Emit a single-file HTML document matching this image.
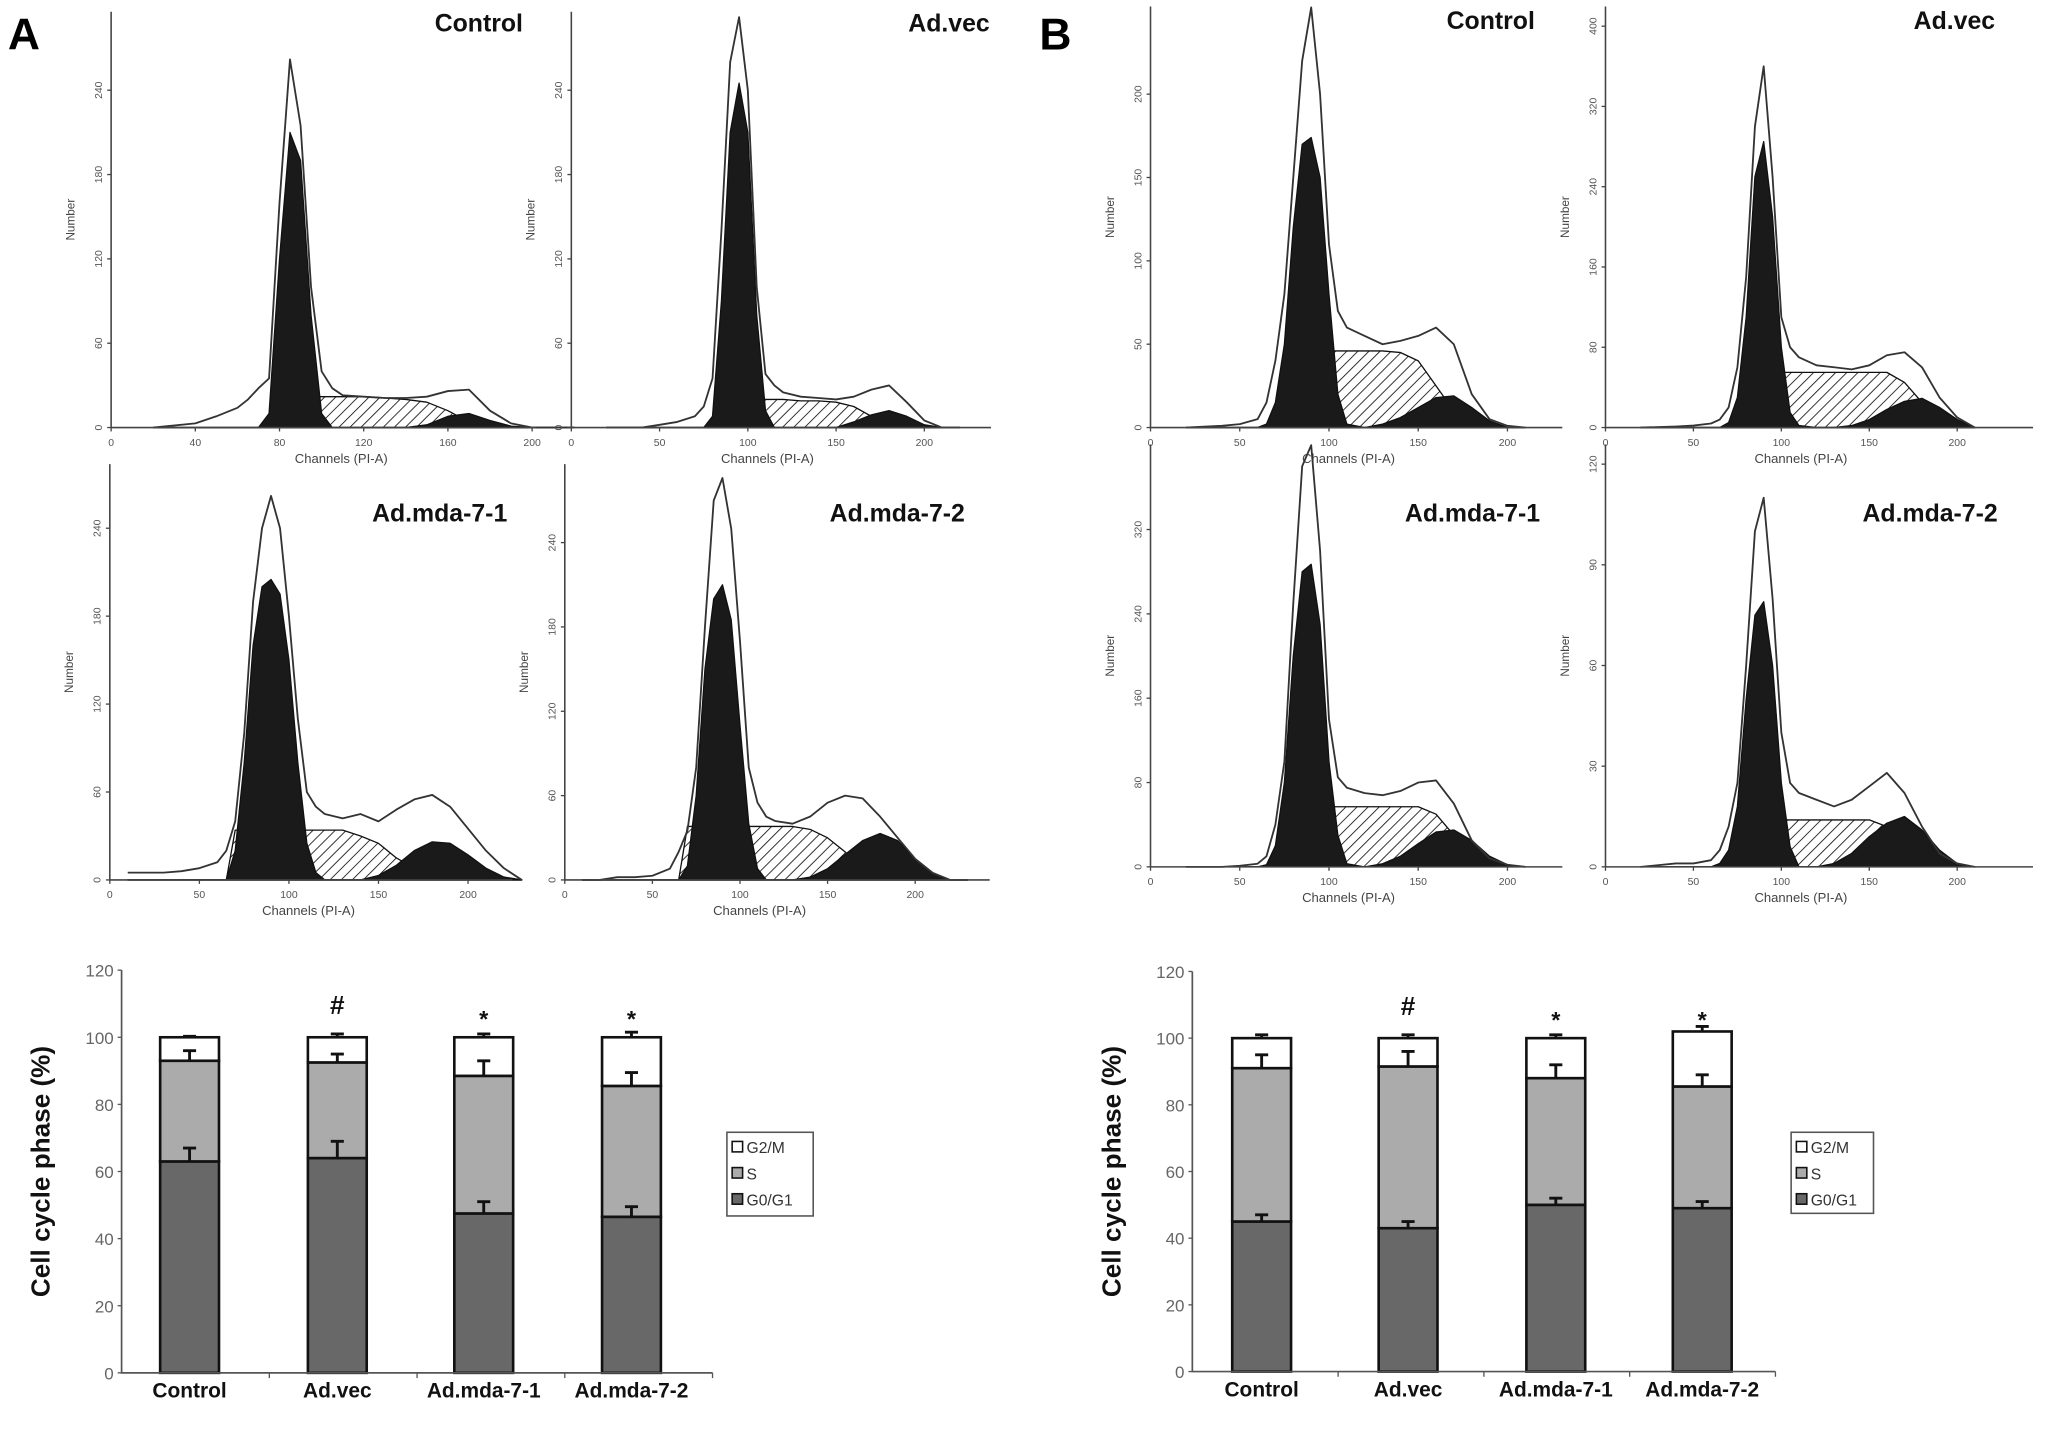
<!DOCTYPE html>
<html><head><meta charset="utf-8"><style>
html,body{margin:0;padding:0;background:#fff;}
svg{display:block;}
text{font-family:"Liberation Sans",sans-serif;}
</style></head><body>
<svg id="fig" width="2050" height="1433" viewBox="0 0 1568 1096" preserveAspectRatio="none" xmlns="http://www.w3.org/2000/svg">
<defs>
<pattern id="hatch" patternUnits="userSpaceOnUse" width="6" height="6" patternTransform="rotate(45)">
<rect width="6" height="6" fill="#fff"/><line x1="0" y1="0" x2="0" y2="6" stroke="#111" stroke-width="1.3"/>
</pattern>
</defs>
<rect width="1568" height="1096" fill="#fff"/>
<text x="6" y="38" font-size="34" font-weight="bold">A</text>
<text x="795" y="38" font-size="34" font-weight="bold">B</text>
<g id="hists"></g>
<g id="bars"></g>
</svg>
<script>
// ---------- Histogram data ----------
const chA = [20,40,50,60,65,70,75,80,85,90,95,100,105,110,120,130,140,150,160,170,180,190,200,210,220];
const aCtrlTotal = [0,3,8,14,20,28,35,160,262,215,100,40,28,23,22,21,21,22,26,27,12,3,0,0,0];
const aCtrlG1    = [0,0,0,0,0,0,10,120,210,190,80,10,0,0,0,0,0,0,0,0,0,0,0,0,0];
const aCtrlS     = [0,0,0,0,0,0,0,0,20,22,22,22,22,22,22,21,20,18,12,4,0,0,0,0,0];
const aCtrlG2    = [0,0,0,0,0,0,0,0,0,0,0,0,0,0,0,0,0,2,8,10,5,1,0,0,0];

const chA2 = [20,40,50,60,70,75,80,85,90,95,100,105,110,115,120,130,140,150,160,170,180,190,200,210,220];
const aVecTotal = [0,0,2,4,8,15,35,140,260,292,240,100,38,30,25,22,21,20,22,27,30,18,5,0,0];
const aVecG1    = [0,0,0,0,0,0,8,90,210,245,210,80,12,0,0,0,0,0,0,0,0,0,0,0,0];
const aVecS     = [0,0,0,0,0,0,0,0,0,15,20,20,20,20,20,19,19,18,15,8,2,0,0,0,0];
const aVecG2    = [0,0,0,0,0,0,0,0,0,0,0,0,0,0,0,0,0,0,4,9,12,8,2,0,0];

const chA3 = [10,20,30,40,50,60,65,70,75,80,85,90,95,100,105,110,115,120,130,140,150,160,170,180,190,200,210,220,230];
const aM1Total = [5,5,5,6,8,12,20,40,100,190,240,262,240,180,110,60,50,45,42,45,40,48,55,58,50,35,20,8,0];
const aM1G1    = [0,0,0,0,0,0,0,20,80,160,200,205,195,150,80,25,5,0,0,0,0,0,0,0,0,0,0,0,0];
const aM1S     = [0,0,0,0,0,0,0,34,34,34,34,34,34,34,34,34,34,34,34,30,25,15,8,3,0,0,0,0,0];
const aM1G2    = [0,0,0,0,0,0,0,0,0,0,0,0,0,0,0,0,0,0,0,0,3,10,20,26,25,17,8,2,0];

const aM2Total = [0,0,2,2,3,8,20,35,80,180,270,286,250,170,80,55,45,42,40,45,55,60,58,45,30,15,5,0,0];
const aM2G1    = [0,0,0,0,0,0,0,10,60,150,200,210,185,110,40,8,0,0,0,0,0,0,0,0,0,0,0,0,0];
const aM2S     = [0,0,0,0,0,0,0,38,38,38,38,38,38,38,38,38,38,38,38,36,30,20,8,2,0,0,0,0,0];
const aM2G2    = [0,0,0,0,0,0,0,0,0,0,0,0,0,0,0,0,0,0,0,2,8,18,28,33,28,15,5,0,0];

const chB = [20,40,50,60,65,70,75,80,85,90,95,100,105,110,120,130,140,150,160,170,180,190,200,210];
const bCtrlTotal = [0,1,2,5,15,40,80,150,220,252,200,110,70,60,55,50,52,55,60,50,20,5,1,0];
const bCtrlG1    = [0,0,0,0,2,15,50,120,170,174,150,80,20,2,0,0,0,0,0,0,0,0,0,0];
const bCtrlS     = [0,0,0,0,0,5,15,25,35,40,44,46,46,46,46,46,45,40,25,10,2,0,0,0];
const bCtrlG2    = [0,0,0,0,0,0,0,0,0,0,0,0,0,0,0,2,6,12,18,19,12,4,0,0];

const bVecTotal = [0,1,2,4,8,20,60,150,300,360,250,110,80,70,62,60,58,62,72,75,60,30,10,0];
const bVecG1    = [0,0,0,0,0,5,30,110,250,285,210,80,15,2,0,0,0,0,0,0,0,0,0,0];
const bVecS     = [0,0,0,0,0,0,10,20,35,45,50,55,55,55,55,55,55,55,55,45,25,8,0,0];
const bVecG2    = [0,0,0,0,0,0,0,0,0,0,0,0,0,0,0,0,2,8,18,26,29,20,8,0];

const bM1Total = [0,0,1,3,10,40,100,250,380,400,300,140,85,75,70,68,72,80,82,60,25,8,2,0];
const bM1G1    = [0,0,0,0,2,20,80,200,280,287,230,100,30,3,0,0,0,0,0,0,0,0,0,0];
const bM1S     = [0,0,0,0,0,0,15,30,40,48,53,57,57,57,57,57,57,57,50,30,10,0,0,0];
const bM1G2    = [0,0,0,0,0,0,0,0,0,0,0,0,0,0,0,3,10,22,33,35,25,10,2,0];

const bM2Total = [0,1,1,2,5,12,25,60,100,110,80,40,25,22,20,18,20,24,28,22,12,4,1,0];
const bM2G1    = [0,0,0,0,1,5,18,50,75,79,60,25,6,0,0,0,0,0,0,0,0,0,0,0];
const bM2S     = [0,0,0,0,0,0,3,6,10,12,13,14,14,14,14,14,14,14,12,8,3,0,0,0];
const bM2G2    = [0,0,0,0,0,0,0,0,0,0,0,0,0,0,0,1,4,9,13,15,11,5,1,0];

const yTicksA240 = [0,60,120,180,240];
const yTicksB200 = [0,50,100,150,200];
const yTicksB400 = [0,80,160,240,320,400];
const yTicksB320 = [0,80,160,240,320];
const yTicksB120 = [0,30,60,90,120];
const xTicksA1 = [0,40,80,120,160,200];
const xTicks50 = [0,50,100,150,200];

// ---------- Bar chart data ----------
const barCats = ["Control","Ad.vec","Ad.mda-7-1","Ad.mda-7-2"];
const barSig = ["","#","*","*"];
const aG1 = [63,64,47.5,46.5];
const aS  = [30,28.5,41,39];
const aG2 = [7,7.5,11.5,14.5];
const aG1Err = [4,5,3.5,3];
const aSErr  = [3,2.5,4.5,4];
const aG2Err = [0.3,1,1,1.5];
const bG1 = [45,43,50,49];
const bS  = [46,48.5,38,36.5];
const bG2 = [9,8.5,12,16.5];
const bG1Err = [2,2,2,2];
const bSErr  = [4,4.5,4,3.5];
const bG2Err = [1,1,1,1.5];
const barYTicks = [0,20,40,60,80,100,120];
const legendLabels = ["G2/M","S","G0/G1"];

const NS="http://www.w3.org/2000/svg";
function el(tag, attrs, parent){const e=document.createElementNS(NS,tag);for(const k in attrs)e.setAttribute(k,attrs[k]);parent.appendChild(e);return e;}

const hists=document.getElementById('hists');
const panels=[
 {name:'a-control',title:'Control',tx:400,ty:24,x0:85,x200:407,xEnd:410,base:327,top:9,tickTop:69,yTicks:yTicksA240,xTicks:xTicksA1,ch:chA,tot:aCtrlTotal,g1:aCtrlG1,s:aCtrlS,g2:aCtrlG2},
 {name:'a-advec',title:'Ad.vec',tx:757,ty:24,x0:437,x200:707,xEnd:758,base:327,top:9,tickTop:69,yTicks:yTicksA240,xTicks:xTicks50,ch:chA2,tot:aVecTotal,g1:aVecG1,s:aVecS,g2:aVecG2},
 {name:'a-mda7-1',title:'Ad.mda-7-1',tx:388,ty:399,x0:84,x200:358,xEnd:392,base:673,top:355,tickTop:404,yTicks:yTicksA240,xTicks:xTicks50,ch:chA3,tot:aM1Total,g1:aM1G1,s:aM1S,g2:aM1G2},
 {name:'a-mda7-2',title:'Ad.mda-7-2',tx:738,ty:399,x0:432,x200:700,xEnd:757,base:673,top:355,tickTop:415,yTicks:yTicksA240,xTicks:xTicks50,ch:chA3,tot:aM2Total,g1:aM2G1,s:aM2S,g2:aM2G2},
 {name:'b-control',title:'Control',tx:1174,ty:22,x0:880,x200:1153,xEnd:1195,base:327,top:5,tickTop:72,yTicks:yTicksB200,xTicks:xTicks50,ch:chB,tot:bCtrlTotal,g1:bCtrlG1,s:bCtrlS,g2:bCtrlG2},
 {name:'b-advec',title:'Ad.vec',tx:1526,ty:22,x0:1228,x200:1497,xEnd:1555,base:327,top:5,tickTop:20,yTicks:yTicksB400,xTicks:xTicks50,ch:chB,tot:bVecTotal,g1:bVecG1,s:bVecS,g2:bVecG2},
 {name:'b-mda7-1',title:'Ad.mda-7-1',tx:1178,ty:399,x0:880,x200:1153,xEnd:1195,base:663,top:340,tickTop:405,yTicks:yTicksB320,xTicks:xTicks50,ch:chB,tot:bM1Total,g1:bM1G1,s:bM1S,g2:bM1G2},
 {name:'b-mda7-2',title:'Ad.mda-7-2',tx:1528,ty:399,x0:1228,x200:1497,xEnd:1555,base:663,top:340,tickTop:355,yTicks:yTicksB120,xTicks:xTicks50,ch:chB,tot:bM2Total,g1:bM2G1,s:bM2S,g2:bM2G2}
];
panels.forEach(p=>{
  const g=el('g',{},hists);
  
  
  const maxT=p.yTicks[p.yTicks.length-1];
  const sx=c=>p.x0+c*(p.x200-p.x0)/200;
  const sy=v=>p.base-v*(p.base-p.tickTop)/maxT;
  const area=(arr,fill,nm)=>{
    let d='M'+sx(p.ch[0])+','+p.base;
    p.ch.forEach((c,i)=>{d+=' L'+sx(c).toFixed(1)+','+sy(arr[i]).toFixed(1);});
    d+=' L'+sx(p.ch[p.ch.length-1])+','+p.base+' Z';
    const e=el('path',{d:d,fill:fill,stroke:'#111','stroke-width':1,'stroke-linejoin':'round'},g);
    
    
  };
  area(p.s,'url(#hatch)','s-phase-area');
  area(p.g2,'#1a1a1a','g2-peak');
  area(p.g1,'#1a1a1a','g1-peak');
  let pts=p.ch.map((c,i)=>sx(c).toFixed(1)+','+sy(p.tot[i]).toFixed(1)).join(' ');
  const ln=el('polyline',{points:pts,fill:'none',stroke:'#333','stroke-width':1.4,'stroke-linejoin':'round'},g);
  
  
  const ax=el('path',{d:`M${p.x0},${p.top} L${p.x0},${p.base} L${p.xEnd},${p.base}`,fill:'none',stroke:'#444','stroke-width':1.2},g);
  
  
  p.yTicks.forEach(v=>{
    el('line',{x1:p.x0-3,x2:p.x0,y1:sy(v),y2:sy(v),stroke:'#444'},g);
    const t=el('text',{x:p.x0-7,y:sy(v),'font-size':8,fill:'#555','text-anchor':'middle',transform:`rotate(-90 ${p.x0-7} ${sy(v)})`},g);
    t.textContent=v;
    
    
  });
  p.xTicks.forEach(v=>{
    el('line',{x1:sx(v),x2:sx(v),y1:p.base,y2:p.base+3,stroke:'#444'},g);
    const t=el('text',{x:sx(v),y:p.base+14,'font-size':8,fill:'#555','text-anchor':'middle'},g);
    t.textContent=v;
    
    
  });
  const xl=el('text',{x:(p.x0+p.x200)/2+15,y:p.base+27,'font-size':10,fill:'#444','text-anchor':'middle'},g);
  xl.textContent='Channels (PI-A)';
  
  
  const ym=(p.top+p.base)/2;
  const yl=el('text',{x:p.x0-28,y:ym,'font-size':9,fill:'#444','text-anchor':'middle',transform:`rotate(-90 ${p.x0-28} ${ym})`},g);
  yl.textContent='Number';
  
  
  const tt=el('text',{x:p.tx,y:p.ty,'font-size':19,'font-weight':'bold','text-anchor':'end',fill:'#111'},g);
  tt.textContent=p.title;
  
  
});

// ---------- Bar charts ----------
const bars=document.getElementById('bars');
const charts=[
 {name:'a',x0:93,xEnd:545,y0:1050,y120:742,centers:[145,258,370,483],g1:aG1,s:aS,g2:aG2,e1:aG1Err,e2:aSErr,e3:aG2Err,lx:556,ly:866,lw:66,lh:64},
 {name:'b',x0:912,xEnd:1358,y0:1049,y120:743,centers:[965,1077,1190,1302],g1:bG1,s:bS,g2:bG2,e1:bG1Err,e2:bSErr,e3:bG2Err,lx:1370,ly:866,lw:63,lh:62}
];
charts.forEach(c=>{
  const g=el('g',{},bars);
  
  
  const sy=v=>c.y0-v*(c.y0-c.y120)/120;
  const bw=45;
  barCats.forEach((cat,i)=>{
    const cx=c.centers[i];
    const segs=[[0,c.g1[i],'#686868','bar-g0g1-'+i,c.e1[i]],[c.g1[i],c.g1[i]+c.s[i],'#ababab','bar-s-'+i,c.e2[i]],[c.g1[i]+c.s[i],c.g1[i]+c.s[i]+c.g2[i],'#fff','bar-g2m-'+i,c.e3[i]]];
    segs.forEach(sg=>{
      const r=el('rect',{x:cx-bw/2,y:sy(sg[1]),width:bw,height:sy(sg[0])-sy(sg[1]),fill:sg[2],stroke:'#111','stroke-width':2},g);
      
      
    });
    segs.forEach(sg=>{
      const ey=sy(sg[1]+sg[4]);
      const eb=el('path',{d:`M${cx},${sy(sg[1])} L${cx},${ey} M${cx-5},${ey} L${cx+5},${ey}`,stroke:'#111','stroke-width':2.2,fill:'none'},g);
      
      
    });
    const lab=el('text',{x:cx,y:c.y0+19,'font-size':16,'font-weight':'bold','text-anchor':'middle',fill:'#111'},g);
    lab.textContent=cat;
    
    
    if(barSig[i]){
      const st=el('text',{x:cx,y:sy(107)+(barSig[i]==='*'?10:0),'font-size':barSig[i]==='*'?18:20,'font-weight':'bold','text-anchor':'middle',fill:'#111'},g);
      st.textContent=barSig[i];
      
      
    }
  });
  const ax=el('path',{d:`M${c.x0},${c.y120} L${c.x0},${c.y0} L${c.xEnd},${c.y0}`,fill:'none',stroke:'#555','stroke-width':1.3},g);
  
  
  const step=(c.xEnd-c.x0)/4;
  for(let k=1;k<=4;k++) el('line',{x1:c.x0+k*step,x2:c.x0+k*step,y1:c.y0,y2:c.y0+4,stroke:'#555'},g);
  barYTicks.forEach(v=>{
    el('line',{x1:c.x0-3,x2:c.x0,y1:sy(v),y2:sy(v),stroke:'#555'},g);
    const t=el('text',{x:c.x0-6,y:sy(v)+5,'font-size':13,fill:'#666','text-anchor':'end','font-family':'Liberation Serif'},g);
    t.textContent=v;
    
    
  });
  const ym=(c.y0+c.y120)/2;
  const yl=el('text',{x:c.x0-55,y:ym,'font-size':20,'font-weight':'bold','text-anchor':'middle',fill:'#111',transform:`rotate(-90 ${c.x0-55} ${ym})`},g);
  yl.textContent='Cell cycle phase (%)';
  
  
  const lg=el('g',{},g);
  
  
  el('rect',{x:c.lx,y:c.ly,width:c.lw,height:c.lh,fill:'#fff',stroke:'#555','stroke-width':1.2},lg);
  const cols=['#fff','#ababab','#686868'];
  legendLabels.forEach((l,i)=>{
    const yy=c.ly+12+i*20;
    el('rect',{x:c.lx+4,y:yy-5,width:8,height:8,fill:cols[i],stroke:'#111','stroke-width':1.2},lg);
    const t=el('text',{x:c.lx+15,y:yy+4,'font-size':12,fill:'#333','font-family':'Liberation Mono'},lg);
    t.textContent=l;
    
    
  });
});
</script>
</body></html>
